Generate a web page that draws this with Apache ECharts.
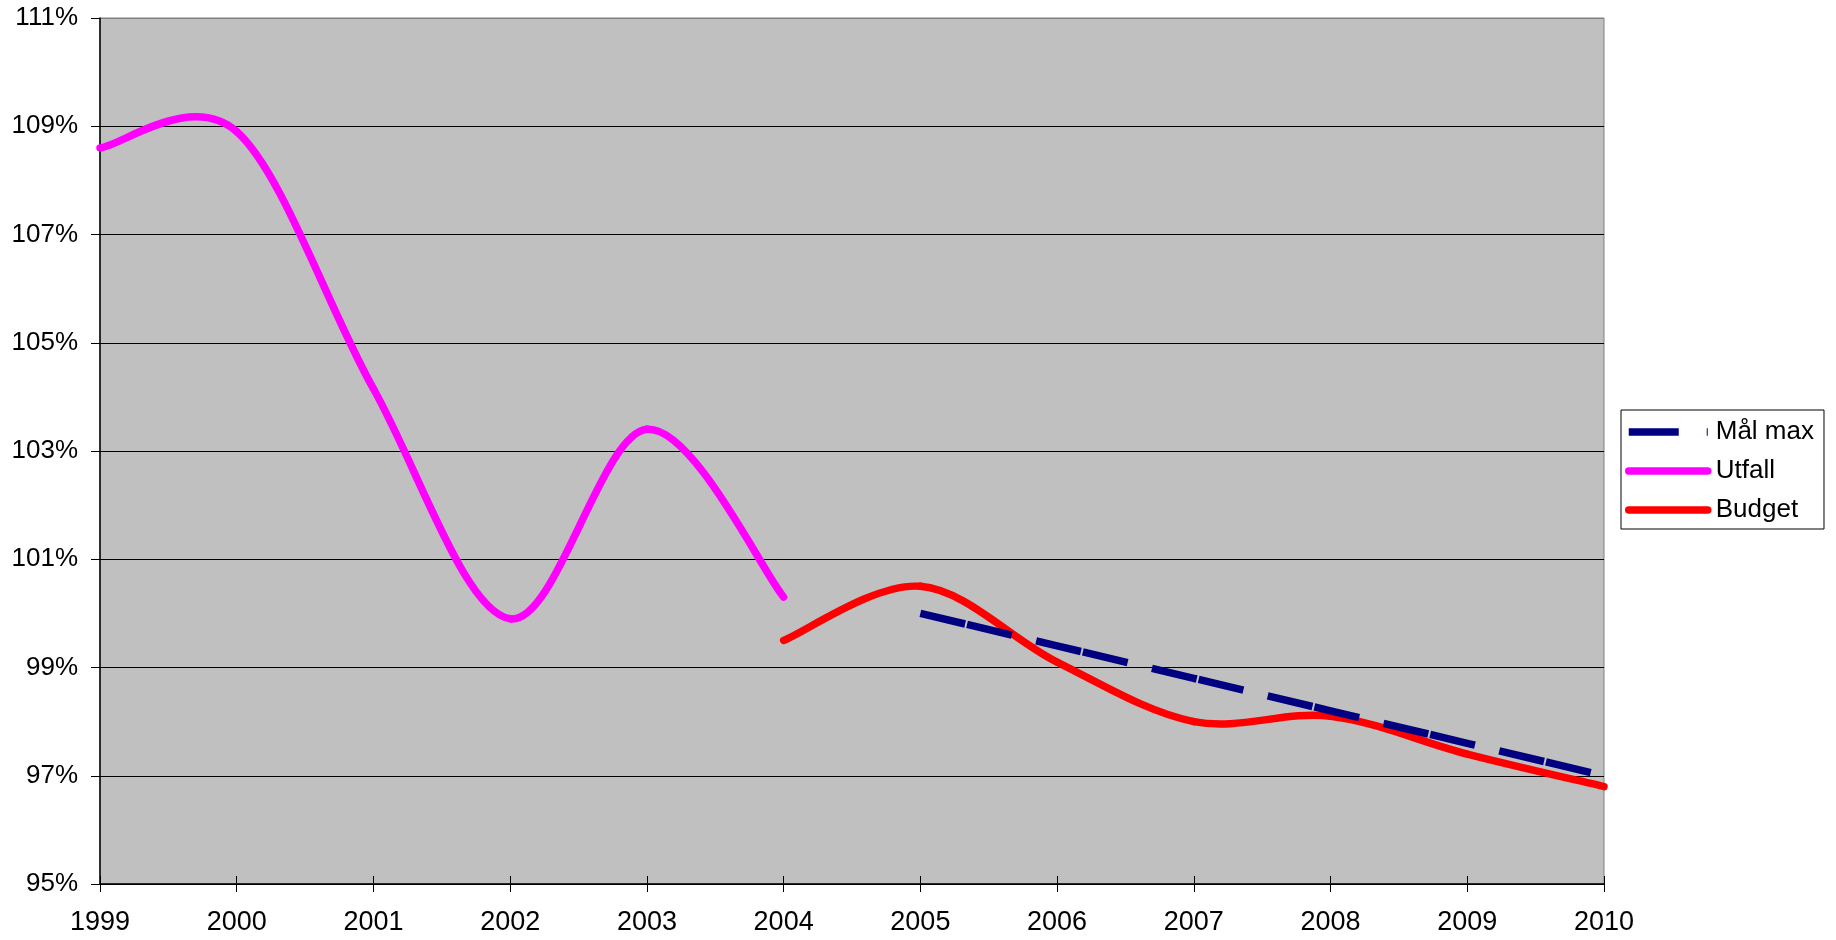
<!DOCTYPE html>
<html>
<head>
<meta charset="utf-8">
<style>
  html, body { margin: 0; padding: 0; background: #ffffff; }
  #chart { width: 1836px; height: 940px; }
</style>
<script src="https://cdn.jsdelivr.net/npm/echarts@6/dist/echarts.min.js"></script>
</head>
<body>
<div id="chart"></div>
<script>
// Years on the horizontal axis
const years = ['1999', '2000', '2001', '2002', '2003', '2004', '2005', '2006', '2007', '2008', '2009', '2010'];

// Outcome (Utfall), 1999–2004, in percent
const utfall = [108.6, 108.9, 104.15, 99.9, 103.4, 100.3, null, null, null, null, null, null];

// Budget, 2004–2010, in percent
const budget = [null, null, null, null, null, 99.5, 100.5, 99.1, 98.0, 98.1, 97.4, 96.8];

// Target maximum (Mål max), 2005–2010, in percent
const malMax = [null, null, null, null, null, null, 100.0, 99.4, 98.8, 98.2, 97.6, 97.0];

// Vertical axis range and step, in percent
const yMin = 95, yMax = 111, yStep = 2;

const FONT = '"Liberation Sans", Arial, sans-serif';
const LINE_W = 7.5;

// Smoothed line drawn as cubic Bézier segments between consecutive points,
// tangents taken from the neighbouring points (Catmull-Rom, factor 1/6).
// Positions come from the axes through api.coord.
function smoothSeries(name, values, color) {
  const items = [];
  values.forEach((v, i) => {
    if (v != null && values[i + 1] != null) items.push([i, v]);
  });
  const has = k => k >= 0 && k < values.length && values[k] != null;
  return {
    name: name,
    type: 'custom',
    coordinateSystem: 'cartesian2d',
    data: items,
    encode: { x: 0, y: 1 },
    silent: true,
    renderItem(params, api) {
      const i = api.value(0);
      const pt = k => api.coord([k, values[k]]);
      const p0 = pt(i);
      const p1 = pt(i + 1);
      const pm = has(i - 1) ? pt(i - 1) : p0;
      const p2 = has(i + 2) ? pt(i + 2) : p1;
      return {
        type: 'bezierCurve',
        shape: {
          x1: p0[0], y1: p0[1],
          x2: p1[0], y2: p1[1],
          cpx1: p0[0] + (p1[0] - pm[0]) / 6,
          cpy1: p0[1] + (p1[1] - pm[1]) / 6,
          cpx2: p1[0] - (p2[0] - p0[0]) / 6,
          cpy2: p1[1] - (p2[1] - p0[1]) / 6
        },
        style: { stroke: color, fill: null, lineWidth: LINE_W, lineCap: 'round', lineJoin: 'round' }
      };
    }
  };
}

const chart = echarts.init(document.getElementById('chart'), null, { renderer: 'canvas' });

chart.setOption({
  backgroundColor: '#ffffff',
  animation: false,
  textStyle: { fontFamily: FONT },
  grid: {
    left: 100, right: 232, top: 18, bottom: 56,
    show: true,
    backgroundColor: '#c0c0c0',
    borderColor: '#808080',
    borderWidth: 1
  },
  legend: {
    orient: 'vertical',
    left: 1621,
    top: 410,
    padding: [9, 10, 6, 4],
    itemWidth: 79,
    itemHeight: 14,
    itemGap: 13,
    backgroundColor: '#ffffff',
    borderColor: '#000000',
    borderWidth: 1,
    borderRadius: 0,
    itemStyle: { opacity: 0 },
    lineStyle: { width: LINE_W },
    textStyle: { fontSize: 26, color: '#000000', fontFamily: FONT, padding: [0, 0, 0, 3] },
    data: [
      { name: 'Mål max', lineStyle: { type: [50, 28], cap: 'butt' } },
      { name: 'Utfall', lineStyle: { cap: 'round' } },
      { name: 'Budget', lineStyle: { cap: 'round' } }
    ]
  },
  xAxis: [
    {
      type: 'category',
      data: years,
      boundaryGap: false,
      position: 'bottom',
      axisLine: { show: true, lineStyle: { color: '#000000', width: 1.5 } },
      axisTick: { show: true, inside: false, length: 8, lineStyle: { color: '#000000', width: 1 } },
      axisLabel: { fontSize: 27, color: '#000000', margin: 25, fontFamily: FONT },
      splitLine: { show: false }
    },
    {
      // inner half of the crossing tick marks
      type: 'category',
      data: years,
      boundaryGap: false,
      position: 'bottom',
      axisLine: { show: false },
      axisTick: { show: true, inside: true, length: 8, lineStyle: { color: '#000000', width: 1 } },
      axisLabel: { show: false },
      splitLine: { show: false }
    }
  ],
  yAxis: {
    type: 'value',
    min: yMin,
    max: yMax,
    interval: yStep,
    axisLine: { show: true, lineStyle: { color: '#000000', width: 1.5 } },
    axisTick: { show: true, inside: false, length: 9, lineStyle: { color: '#000000', width: 1 } },
    axisLabel: {
      fontSize: 26, color: '#000000', margin: 22, fontFamily: FONT,
      formatter: v => v + '%'
    },
    splitLine: {
      show: true,
      lineStyle: {
        color: ['#000000', '#000000', '#000000', '#000000', '#000000', '#000000', '#000000', '#000000', '#808080'],
        width: 1
      }
    }
  },
  series: [
    {
      name: 'Mål max',
      type: 'line',
      data: malMax,
      smooth: false,
      symbol: 'none',
      connectNulls: false,
      color: '#000080',
      lineStyle: { color: '#000080', width: LINE_W, type: [46, 2, 46, 25], cap: 'butt' }
    },
    // legend entries for the smoothed curves
    { name: 'Utfall', type: 'line', data: [], symbol: 'none', color: '#ff00ff', lineStyle: { color: '#ff00ff', width: LINE_W } },
    { name: 'Budget', type: 'line', data: [], symbol: 'none', color: '#ff0000', lineStyle: { color: '#ff0000', width: LINE_W } },
    smoothSeries('Utfall', utfall, '#ff00ff'),
    smoothSeries('Budget', budget, '#ff0000')
  ]
});
</script>
</body>
</html>
